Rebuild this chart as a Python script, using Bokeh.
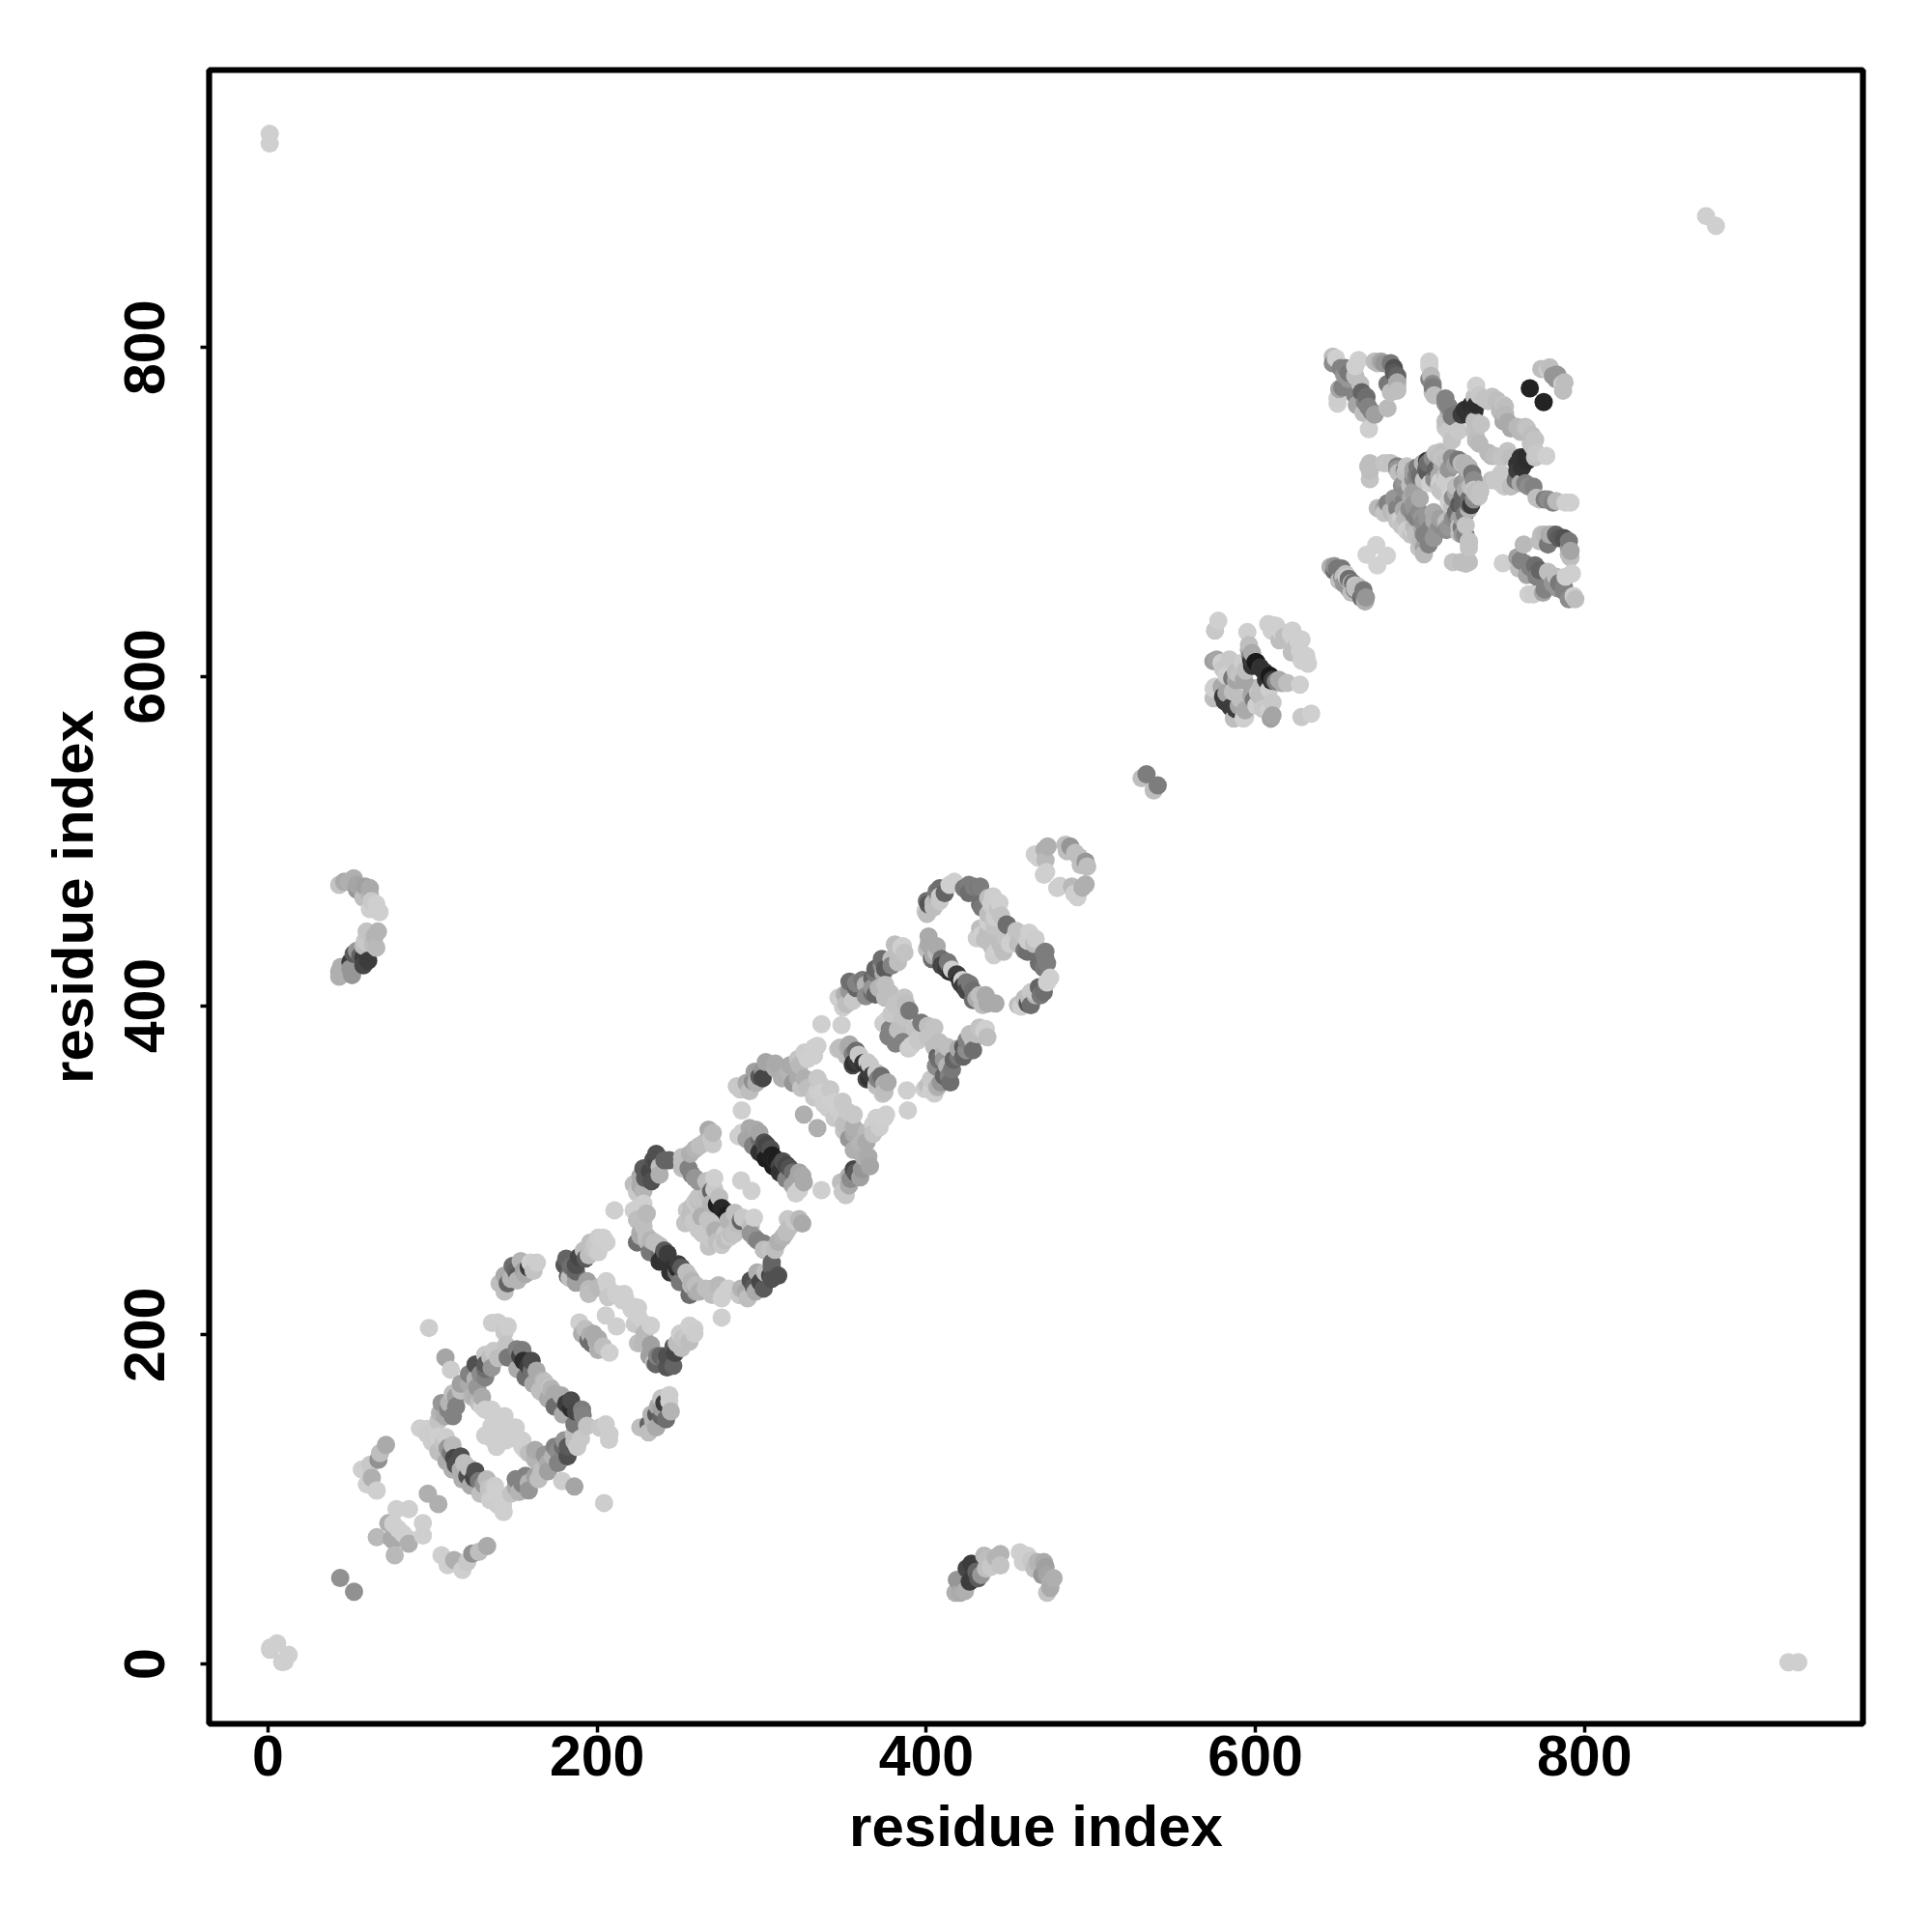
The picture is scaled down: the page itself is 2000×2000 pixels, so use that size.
import numpy as np
from bokeh.plotting import figure
from bokeh.models import FixedTicker, Range1d
from bokeh.embed import file_html
from bokeh.resources import INLINE

x_ticks = [0, 200, 400, 600, 800]
y_ticks = [0, 200, 400, 600, 800]
x_label = "residue index"
y_label = "residue index"

# contacts below the diagonal as (residue i, residue j, grey level); the map is symmetric
contacts = [
 (12.5,5.5,207),(10,1.4,207),(8.6,1.2,205),(923,1,207),(929,1,207),(879,873,207),(52.2,43.8,145),
 (76.9,66,185),(76,75,170),(85,76,207),(94,78,207),(94,85.5,207),(85.4,73,175),(82,79,207),
 (105.3,66,207),(109,60,207),(113,63,175),(118,57,207),(121,62,200),(124,67,145),(128,68,190),(133,71.6,170),
 (103.4,97,175),(204,97.7,205),(186,107.7,165),(178.6,111,205),
 (170,168,190),(174,164,170),(178,160,110),(181,158,60),(184,155,45),(187,153,70),(191,151,130),(168,171,195),
 (193.6,144.5,195),(201.4,143.5,200),(207.3,139.6,205),(207,136,205),(205,145.5,205),
 (142.6,96.5,207),(147.5,103.4,195),(150.4,107.3,170),(154.4,109.3,130),(158.3,110,180),(162.2,114,160),
 (166,117,190),(170,122,170),(173,126,180),(176,129,140),(179,132,110),(182,132,90),(186,135,190),(190,137,200),
 (140.6,145.5,207),(144.5,141.6,207),(150.4,136.7,207),(154.4,131.8,207),(158.3,127.9,190),(162.2,126,175),
 (136.7,141.6,207),(140.6,135.8,207),(147.5,143.6,207),
 (118,117,175),(121,114,80),(125,113,70),(128,111,120),(131,109,150),(134,106.5,195),(138,103.5,207),
 (227.9,143.6,190),(231,145.5,100),(233.8,147.5,180),(235.7,151.4,90),(238.7,150.4,100),(238.7,155.3,160),
 (240.6,158.3,60),(243.6,159.3,207),
 (207.3,189,207),(203.4,192.6,190),(199.5,195.5,175),(196.5,194.5,110),(200.4,190.6,175),(197.5,200.4,170),(211.6,205,207),
 (220.7,215.2,207),(224.6,211.3,207),(228.5,206.4,207),(227.5,194.7,185),(232.4,193.7,160),(236.3,186.9,130),
 (235.4,182,100),(241.2,183.9,110),(242.2,180,85),(246,181,100),(247.1,188.8,70),(251,191.7,190),(252,197.6,195),
 (254.9,198.6,200),(258.8,203.5,207),
 (286.2,224,200),(290.1,226,170),(295,228.9,90),(298.9,231.8,70),(301.8,237.7,190),(304.8,235.7,70),(305.8,240.6,100),
 (275.4,210.3,207),(276.4,224,207),(269.6,227.9,190),(261.8,226,175),(273.5,229.9,185),
 (240.3,248.5,40),(246.1,240.6,50),(248,237.7,110),(251,240.6,90),(255.9,234.8,190),(256.9,229.9,185),(259.8,226,170),
 (278.8,272.5,30),(275.4,276.8,40),(283.3,273.9,190),(288.2,270.9,200),(287,269,100),(295,270.9,207),
 (277.4,261.2,200),(271.5,263.1,175),(281.3,261.2,190),(268.6,258.2,200),(275.4,254.3,200),
 (295,259.2,150),(300.9,255.3,130),(304.8,251.4,195),(309.7,256.3,175),(314.6,262.1,190),(319.4,269,200),(324.3,267.4,170),
 (302.8,314.9,70),(305.7,308,40),(308.7,306.1,30),(310.6,302.2,70),(314.6,302.2,80),(318.5,298.3,110),(321.4,294.4,165),(322.4,287.6,207),
 (336,287.6,207),(293.5,287.2,207),
 (348.8,286.6,200),(352.7,290.5,170),(356.6,298.3,90),(360.5,300.3,150),(361.5,308,175),(359.5,315.9,180),
 (355.6,321.8,170),(363.4,322.7,185),(367.3,327.6,207),(374.2,331.5,207),
 (345.8,337.4,207),(351.7,335.4,200),(355.6,325.7,175),(349.7,323.7,195),(333.5,325.3,175),
 (388.4,336,207),(387.8,348.2,207),
 (355.6,364.8,50),(358.5,369.7,200),(365.4,359,60),(369.3,359,200),(370.2,355,130),(374.2,352.1,175),(374.2,347.2,190),
 (402.5,348.2,207),(406.4,350.2,175),(410.3,357,100),(413.3,357,130),(415.2,360.9,120),(419.1,368.7,120),
 (422,374.6,90),(424,372.6,140),(428,378.5,190),(430,382.4,190),(434.8,384.4,207),
 (385.3,377.5,130),(390.8,375.6,207),(396.6,389.3,120),(400.5,387.3,190),(404.5,386.3,195),(406.4,368.7,100),(407.4,377.5,190),(410.3,370.7,180),
 (420.1,414.7,40),(424,413.7,120),(427.9,408.8,110),(431.8,405.9,190),(436.7,401,170),(415.2,421.5,207),
 (457.2,399.1,207),(461.1,401,85),(463.1,407.8,200),(466,405.9,180),(470.9,407.8,110),(472.9,413.7,207),
 (442.6,433.3,207),(444.5,437.2,190),(448.4,448.9,110),(450.4,437.2,207),(454.3,445,195),(461,432.3,110),(462.1,444,207),
 (465,437.2,190),(471,431.3,120),(471.9,428.4,125),
 (479.1,471,207),(488,472,185),(491.4,465.5,207),(494.4,471.4,175),(493.4,485,190),(496.3,487,150),
 (420.2,43.2,170),(418.2,51,150),(423.1,44.2,175),(426,50,60),(429,57.9,60),(431,52,90),(432.9,54,150),
 (436.8,63.7,190),(438.8,58.9,200),(441.7,64.7,180),
 (461.2,65.7,207),(465.2,57.9,190),(467.1,61.8,180),(470,54,150),(472,58.9,160),(473,43.2,195),(474.9,49.1,175),
 (540.1,533.3,125),(537.7,530.3,190),
 (600,608.2,25),(597,609.2,30),(604.9,602.3,50),(608.2,599.4,35),(605.9,597.4,50),(611.8,596.4,130),(615.7,595.5,170),(626.4,594.5,207),
 (630.7,609.2,207),(626.4,615,207),(625.4,620.9,207),
 (633.3,576.9,207),(627.4,574.9,200),(593.2,574.9,207),(586.3,574,190),(589.3,581.8,165),(584.4,580.8,60),
 (607.8,578.9,207),(608.8,573.9,160),(600,581.8,207),(597.1,592.5,165),(598.5,585.3,120),
 (654.8,660,200),(657.7,656.1,175),(659.7,652.2,120),(661.6,654.2,190),(666.5,647.4,150),
 (679.2,672.8,210),(673.4,666.9,210),
 (774.4,766,35),(785.8,777,207),(782,780,150),
 (792.6,648.3,207),(786.7,651.3,130),(782.8,653.2,150),(783.8,656.2,120),(774,650.3,165),(765.2,649.3,207),
 (777,663,190),(772,664,100),(766.2,665.9,130),(760.4,669.8,130),(762.3,679.6,185),(749.6,668.3,207),(791.6,662,207),
 (775,685.5,185),(780,685.5,175),(786.7,683.5,80),(789.7,677.7,150),(789.7,673.7,185),
 (787.7,705,207),(782,706,185),(777,707,140),(772,707,190),
 (729,668.9,190),(719.3,668.9,195),(729,680.6,200),(727,685.5,130),
 (701.7,677.6,160),(704.6,679.6,130),(707.6,683.5,150),(711.5,691.3,140),(715.4,693.3,190),(719.3,695.3,140),(723.2,695.3,160),
 (725.2,703.1,100),(729,707,110),(733,710.9,190),(729,701.1,180),(735,708.9,195),
 (691,688.4,195),(696.8,685.5,190),(699.8,681.6,185),(695.8,697.2,130),(700.7,696.2,150),(688,695.3,207),
 (711.5,717.7,207),(719.3,708,140),(715.4,710.9,195),(721.3,710.9,170),(708,693.9,170),
 (729,724.6,185),(732,718.7,140),(735,712.8,195),(730.4,703.6,60),(724.6,690,120),(721.3,697.2,130),
 (716.8,690,150),(726.5,697.8,120),(716.8,705.6,207),(718.7,701.7,195),
 (764.3,750,195),(758.4,751,185),(766.6,740.8,195),(768.2,738.3,195),(776,733.4,207),(770.1,735.3,200),
 (764.3,730.4,45),(758.4,728.5,50),(760.4,732.4,50),(765.2,714.8,140),(760.4,716.8,170),(750.6,714.8,200),
 (744.7,718.7,200),(748.6,732.4,195),(742.8,733.4,185),(758.4,720.7,120),
]

contacts_edges = [
 (172,167,180),(178,163,170),(184,160,75),(190.6,154.4,125),(174,156.3,110),(179,151.4,170),(186,145.5,120),(170,161,170),(166,165,190),
 (150.4,112.2,130),(156.3,114.2,130),(162.2,124,180),(168,127,150),(174,131.8,130),(179.8,135.7,150),(185.7,139.6,190),
 (152.4,104.4,180),(158.3,105.4,150),(164.2,112.2,190),(170,117,160),(176,122,130),(181.8,126,80),(187.7,131.8,200),
 (119,122,190),(125.9,117,80),(132.8,112,185),(137.7,108,205),(118,112,175),(123,108.3,170),(128.9,103.4,190),(134.7,99.5,205),(139.6,96.5,205),(143,92.2,207),
 (226,143.6,190),(231,140.6,190),(235.7,143.6,170),(241.6,148.5,110),(244.5,153.4,180),(232.8,151.4,180),(236.7,156.3,170),(238.7,161.2,195),(243.6,163.2,205),
 (228.5,200.5,185),(224.6,194.7,190),(231.5,186.9,160),(234.4,183,190),(238.3,186.9,100),(242.2,186.9,80),(246.1,192.7,90),(248.1,194.7,190),(250,200.5,205),
 (255.9,195.7,190),(258.8,200.5,205),(255.9,205.4,207),(222.7,206.4,200),(232.4,205.4,207),(216.8,222,207),(224.6,216.2,207),
 (287.2,227.9,180),(291.1,222,190),(296,226,170),(300.9,227.9,90),(305.8,233.8,80),(297,237.7,175),(293,232.8,80),(309.7,235.7,80),(305.8,243.6,100),
 (269.6,224,190),(275.4,222,207),(279.4,227.9,207),(265.7,227.9,190),
 (249,242.6,60),(244.2,237.7,50),(254,237.7,190),(250,231.8,120),(255.9,224,110),(259.8,229.9,190),(257.3,232.4,180),
 (285.2,267,190),(277.4,257.2,190),(272.5,256.3,190),(269.6,267,195),(263.7,261.2,200),(267.6,253.3,195),(280.3,259.2,200),(283.3,261.2,195),(279.4,269,180),(293,266,190),
 (293,261.2,150),(297,257.2,130),(300.9,251.4,190),(307.7,251.4,190),(312.6,259.2,180),(316.5,265,190),(315.5,270,200),(322.4,270,185),
 (306.7,302.2,30),(310.6,298.3,50),(314.6,294.4,130),(318.5,290.5,165),(320.4,285.6,207),(312.6,305.1,80),(316.5,301.2,80),(322.4,298.3,165),(325.3,292.4,170),(324.3,296.3,170),
 (350.7,284.6,200),(347.8,292.4,190),(353.7,294.4,140),(359.5,295.4,160),(355.6,300.3,70),(352.7,296.3,175),(365.4,302.2,165),(364.4,308,170),(355.6,312,175),(363.4,316.9,170),
 (367.3,321.8,195),(371.2,325.7,205),(375.2,333.5,207),(369.3,331.5,207),(352.7,318.8,150),(349.7,327.6,190),
 (340,337.4,205),(347.8,333.5,205),(343.9,331.5,200),(355.6,333.5,200),(340.9,343.3,207),(348.8,341.3,200),(336,347,207),
 (365.4,363.8,200),(363.4,355,70),(369.3,351.1,190),(373.2,346.2,195),(376.1,353,170),(372.2,357,110),(357.5,366.8,60),(361.4,364.8,50),
 (400.5,351.1,190),(404.5,346.3,205),(408.4,353,150),(414.2,353,110),(412.3,362.9,180),(416.2,366.8,100),(422,368.7,100),(419.1,373.6,170),(424,378.5,130),(428,372.6,110),
 (426,382.4,190),(431.8,386.3,195),(436.7,380.5,190),(435.7,385.4,207),(402.5,355,200),(398.6,349.1,205),
 (385,382.4,190),(381,376.6,130),(388.8,373.6,205),(394.7,378.5,200),(392.7,385.4,195),(400.5,380.5,195),(404.5,374.6,190),(407.4,366.8,110),(412.3,374.6,190),(410.3,366.8,150),(405.4,362.9,140),
 (422,411.7,60),(426,412.7,120),(430,403.9,170),(435.7,405.9,170),(433.8,400,190),(441.6,401,170),(424,408.8,70),(428,403,110),(418.1,418.6,60),(413.3,420.5,60),
 (471.9,432.3,125),(472.9,425.4,125),(468,425.4,110),(470.9,422.5,120),(474.8,416.6,207),(468,410.8,100),(466,407.8,200),(462.1,404,190),(459.2,404,190),(463.1,400,110),(455.3,400,190),(469,405.9,120),
 (455.3,437.2,190),(458.2,443,195),(459.2,433.3,120),(447.5,441.1,195),(453.3,441.1,205),(446.5,432.3,190),(439.6,435.2,190),(440.6,430.3,205),(461.1,439.1,205),(466,440.1,205),
 (793.6,646.4,190),(789.7,646.4,140),(786.7,654.2,130),(779.9,656.1,150),(775,652.2,130),(768.2,649.3,205),(769.2,666.9,110),(763.3,667.9,130),(758.4,671.8,160),(759.4,665,190),
 (770.1,660,130),(764.3,661,165),(781.9,660,190),(787.7,660,207),(790.7,671.8,190),(789.7,681.6,120),(783.8,683.5,90),(781.9,685.5,100),(778,685.5,170),(773,685.5,190),(772,681.6,190),(777,679.6,120),(790.7,675.7,165),
 (666,645,175),(663.6,647.3,110),(658.7,656.1,110),(652.8,660,190),(657.7,650.3,190),(651.8,665,120),(665,648.9,120),(655.8,653.2,150),
 (701.7,685.5,130),(705.6,689.4,130),(709.5,687.4,150),(701.7,673.7,185),(711.5,695.3,160),(715.4,688.4,140),(721.3,699.2,110),(723.2,704,90),(729,704,110),(732,707,140),(725.2,708.9,100),
 (727.1,712.8,170),(735,712.8,190),(730,714.8,190),(722.2,700.1,110),(725.2,695.3,160),(727.1,691.3,195),(723.2,690.4,190),(729,681.6,195),(725.2,685.5,150),(723.2,686.4,190),
 (684.1,699.2,190),(688,691.3,205),(693.9,685.5,195),(698.8,677.6,195),(698.8,699.2,140),(703.7,695.3,150),(700.7,689.4,170),(695.8,690.4,185),(707.6,699.2,170),(692.9,701.1,140),
 (711.5,712.8,195),(717.3,714.8,205),(721.3,714.8,190),(715.4,718.7,205),(725.2,716.8,150),(728.1,720.7,160),(731,722.6,120),(729,726.5,180),(732,712.8,195),(735.9,711.9,195),
 (769.2,732.4,195),(764.3,733.4,45),(761.3,726.5,50),(758.4,724.6,60),(763.3,716.8,130),(768.2,714.8,130),(757.4,718.7,120),(754.5,714.8,190),(748.6,716.8,200),(742.8,718.7,195),(748.6,722.6,200),
 (754.5,732.4,190),(740.8,735.3,185),(744.7,733.4,190),(752.5,736.3,195),(763.3,750.9,190),(760.4,748,185),(769.2,743.2,195),(767.2,746,190),(754.5,750,170),(752.5,753.9,170),
 (770.1,708,190),(780,705,130),(775,707,125),(790.7,705,207),(724.2,668.9,190),(727.1,667.9,190),(729,677.6,195),(787.1,778,190),(782.3,782.8,150),(786.2,773,190),
 (609.8,597.4,60),(613.7,597.4,170),(618.6,595.5,190),(607.8,591.6,205),(603,593.5,190),(597.1,587.6,165),(602,587.6,190),(603.9,579.8,200),(609.8,583.7,200),(609.8,575.9,165),(593.2,578.9,170),(587.3,579.8,60),(592.2,574,207),
 (627.4,609.2,207),(630.3,612,207),(623.5,617,190),(627.4,621.9,207),(621.5,614,190),(631.3,607.2,207),(622.5,622.8,207),(601,589.6,195),(590.2,585.7,190),
 (417.3,43.2,175),(422.1,50,150),(424.1,57.9,70),(427,60.8,60),(430,56,100),(435.8,57.9,190),(434.8,65.7,185),(444.6,66.7,180),(444.6,59.8,195),
 (473,54,165),(474.9,46.2,170),(476.9,52,175),(471,61.8,170),(463.2,62.8,200),(456.4,67.7,207),(458.3,61.8,207),
 (492.4,490,190),(497.3,484.1,190),(489.5,467.5,207),(496.3,473.3,175),(480.7,472.4,207),
 (144.5,135.7,207),(150.4,143.6,207),(154.4,135.7,207),(156.3,129.9,207),(162.2,129.9,170),(134.7,137.7,207),(138.7,131.8,207),
]

all_contacts = contacts + contacts_edges
residue_i = [c[0] for c in all_contacts]
residue_j = [c[1] for c in all_contacts]
grey = [c[2] for c in all_contacts]

# contacts were read with 1.705 px per residue; the tick marks give 1.7034
read_scale = 1.001
xs = np.array(residue_i + residue_j) * read_scale
ys = np.array(residue_j + residue_i) * read_scale
gs = np.array(grey + grey)
order = np.argsort(xs, kind="stable")
colors = ["#%02x%02x%02x" % (g, g, g) for g in gs[order]]

p = figure(width=1984, height=1984, output_backend="svg", toolbar_location=None,
           x_range=Range1d(-35.8, 969.2), y_range=Range1d(-36.4, 968.6),
           min_border_left=216, min_border_right=56, min_border_top=72, min_border_bottom=200)
p.grid.visible = False
p.background_fill_color = "white"
p.outline_line_color = "black"
p.outline_line_width = 6.2

p.scatter(xs[order], ys[order], size=19, color=colors, line_color=None)

for ax, ticks, lab in ((p.xaxis[0], x_ticks, x_label), (p.yaxis[0], y_ticks, y_label)):
    ax.ticker = FixedTicker(ticks=ticks)
    ax.axis_line_color = None
    ax.minor_tick_line_color = None
    ax.major_tick_line_color = "black"
    ax.major_tick_line_width = 3.5
    ax.major_tick_out = 9
    ax.major_tick_in = 0
    ax.axis_label = lab
    ax.axis_label_text_font = "Liberation Sans"
    ax.axis_label_text_font_style = "bold"
    ax.axis_label_text_font_size = "60px"
    ax.axis_label_text_color = "black"
    ax.major_label_text_font = "Liberation Sans"
    ax.major_label_text_font_style = "bold"
    ax.major_label_text_font_size = "59px"
    ax.major_label_text_color = "black"
p.xaxis[0].major_label_standoff = 3
p.xaxis[0].axis_label_standoff = 16
p.yaxis[0].major_label_orientation = "parallel"
p.yaxis[0].major_label_standoff = 37
p.yaxis[0].axis_label_standoff = 18

open("out.html", "w").write(file_html(p, INLINE))
